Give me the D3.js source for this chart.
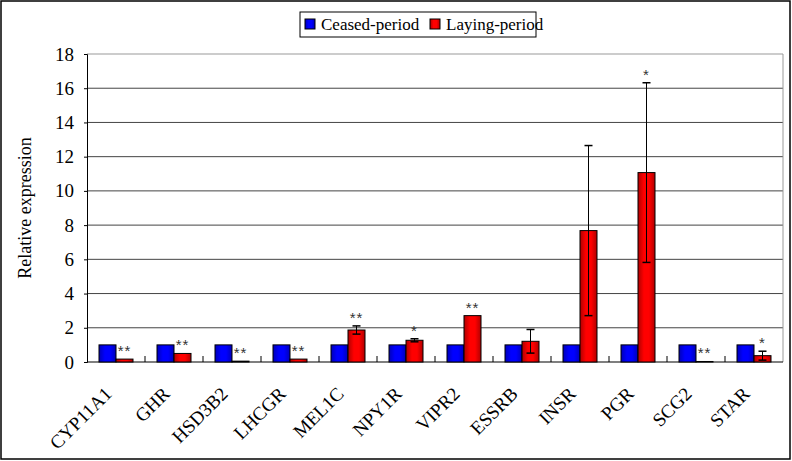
<!DOCTYPE html>
<html>
<head>
<meta charset="utf-8">
<script src="https://cdn.jsdelivr.net/npm/d3@7"></script>
<style>
  body { margin: 0; background: #fff; }
  svg text { font-family: "Liberation Serif", "Times New Roman", serif; }
</style>
</head>
<body>
<div class="canvas"></div>
<script>
const width = 792;
const height = 461;

// data
const genes = ["CYP11A1", "GHR", "HSD3B2", "LHCGR", "MEL1C", "NPY1R", "VIPR2", "ESSRB", "INSR", "PGR", "SCG2", "STAR"];
const ceased = [1, 1, 1, 1, 1, 1, 1, 1, 1, 1, 1, 1];
const laying = [0.17, 0.5, 0.05, 0.17, 1.87, 1.27, 2.71, 1.21, 7.68, 11.07, 0.03, 0.37];
const layingErr = [0, 0, 0, 0, 0.24, 0.09, 0, 0.69, 4.97, 5.25, 0, 0.26];
const signif = ["**", "**", "**", "**", "**", "*", "**", "", "", "*", "**", "*"];
const yTicks = [0, 2, 4, 6, 8, 10, 12, 14, 16, 18];
const seriesNames = ["Ceased-period", "Laying-period"];

const plot = { left: 87, right: 783, top: 54, bottom: 362 };
const serif = "'Liberation Serif', 'Times New Roman', serif";

const svg = d3
  .select(".canvas")
  .append("svg")
  .attr("width", width)
  .attr("height", height);

// gradients for the bars
const defs = svg.append("defs");
function grad(id, edge, mid) {
  const g = defs.append("linearGradient").attr("id", id)
    .attr("x1", "0%").attr("x2", "100%").attr("y1", "0%").attr("y2", "0%");
  g.append("stop").attr("offset", "0%").attr("stop-color", edge);
  g.append("stop").attr("offset", "35%").attr("stop-color", mid);
  g.append("stop").attr("offset", "65%").attr("stop-color", mid);
  g.append("stop").attr("offset", "100%").attr("stop-color", edge);
}
grad("gBlue", "#0000b8", "#0000ff");
grad("gRed", "#b00000", "#ff0000");

// outer frame
svg.append("rect")
  .attr("x", 1).attr("y", 1)
  .attr("width", width - 3).attr("height", height - 3)
  .attr("fill", "#fff").attr("stroke", "#000").attr("stroke-width", 1.5);

// scales
const x = d3.scaleBand().domain(genes).range([plot.left, plot.right]);
const y = d3.scaleLinear().domain([0, 18]).range([plot.bottom, plot.top]);
const barW = 17;

// gridlines
svg.append("g")
  .selectAll("line")
  .data(yTicks.filter(d => d > 0))
  .enter()
  .append("line")
  .attr("x1", plot.left).attr("x2", plot.right)
  .attr("y1", d => y(d)).attr("y2", d => y(d))
  .attr("stroke", d => d === 18 ? "#999" : "#444")
  .attr("stroke-width", 1);

// right border of plot
svg.append("line")
  .attr("x1", plot.right).attr("x2", plot.right)
  .attr("y1", plot.top).attr("y2", plot.bottom)
  .attr("stroke", "#999");

// y axis
const yAxis = d3.axisLeft(y).tickValues(yTicks).tickSize(3).tickPadding(10);
const gy = svg.append("g")
  .attr("transform", `translate(${plot.left},0)`)
  .call(yAxis);
gy.attr("font-family", null).attr("font-size", null);
gy.select(".domain").attr("stroke", "#000");
gy.selectAll("text")
  .attr("fill", "#000")
  .style("font-family", serif)
  .style("font-size", "19px");

// x axis (inside ticks at category boundaries)
svg.append("line")
  .attr("x1", plot.left).attr("x2", plot.right)
  .attr("y1", plot.bottom).attr("y2", plot.bottom)
  .attr("stroke", "#000").attr("stroke-width", 1.2);
svg.append("g")
  .selectAll("line")
  .data(genes.slice(1))
  .enter()
  .append("line")
  .attr("x1", d => x(d)).attr("x2", d => x(d))
  .attr("y1", plot.bottom).attr("y2", plot.bottom - 6)
  .attr("stroke", "#000");

// x labels
svg.append("g")
  .selectAll("text")
  .data(genes)
  .enter()
  .append("text")
  .attr("transform", d => `translate(${x(d) + x.bandwidth() / 2 - 3},${plot.bottom + 33}) rotate(-45)`)
  .attr("text-anchor", "end")
  .attr("font-size", 19)
  .text(d => d);

// y title
svg.append("text")
  .attr("transform", `translate(31,${(plot.top + plot.bottom) / 2}) rotate(-90)`)
  .attr("text-anchor", "middle")
  .attr("font-size", 18)
  .text("Relative expression");

// bars
const cx = d => x(d) + x.bandwidth() / 2;
svg.append("g")
  .selectAll("rect")
  .data(genes)
  .enter()
  .append("rect")
  .attr("x", d => cx(d) - barW)
  .attr("y", (d, i) => y(ceased[i]))
  .attr("width", barW)
  .attr("height", (d, i) => y(0) - y(ceased[i]))
  .attr("fill", "url(#gBlue)")
  .attr("stroke", "#000").attr("stroke-width", 1);

svg.append("g")
  .selectAll("rect")
  .data(genes)
  .enter()
  .append("rect")
  .attr("x", d => cx(d))
  .attr("y", (d, i) => y(laying[i]))
  .attr("width", barW)
  .attr("height", (d, i) => y(0) - y(laying[i]))
  .attr("fill", "url(#gRed)")
  .attr("stroke", "#000").attr("stroke-width", 1);

// error bars
const eb = svg.append("g").attr("stroke", "#000").attr("stroke-width", 1);
genes.forEach((g, i) => {
  if (!layingErr[i]) return;
  const ex = cx(g) + barW / 2;
  const hi = y(laying[i] + layingErr[i]);
  const lo = y(Math.max(0, laying[i] - layingErr[i]));
  eb.append("line").attr("x1", ex).attr("x2", ex).attr("y1", hi).attr("y2", lo);
  eb.append("line").attr("x1", ex - 4).attr("x2", ex + 4).attr("y1", hi).attr("y2", hi).attr("stroke-width", 1.5);
  eb.append("line").attr("x1", ex - 4).attr("x2", ex + 4).attr("y1", lo).attr("y2", lo).attr("stroke-width", 1.5);
});

// significance marks
svg.append("g")
  .selectAll("text")
  .data(genes)
  .enter()
  .append("text")
  .attr("x", d => cx(d) + barW / 2)
  .attr("y", (d, i) => y(laying[i] + layingErr[i]) - 3)
  .attr("text-anchor", "middle")
  .style("font-size", "15px")
  .style("font-family", "'Liberation Sans', Arial, sans-serif")
  .style("letter-spacing", "1px")
  .attr("fill", "#333")
  .text((d, i) => signif[i]);

// legend
const lg = svg.append("g").attr("transform", "translate(300,12)");
lg.append("rect")
  .attr("width", 236).attr("height", 25)
  .attr("fill", "#fff").attr("stroke", "#000").attr("stroke-width", 1);
const items = [
  { name: seriesNames[0], fill: "url(#gBlue)", x: 5 },
  { name: seriesNames[1], fill: "url(#gRed)", x: 130 }
];
items.forEach(it => {
  lg.append("rect")
    .attr("x", it.x).attr("y", 7).attr("width", 10).attr("height", 10)
    .attr("fill", it.fill).attr("stroke", "#000");
  lg.append("text")
    .attr("x", it.x + 16).attr("y", 18)
    .attr("font-size", 17)
    .text(it.name);
});
</script>
</body>
</html>
